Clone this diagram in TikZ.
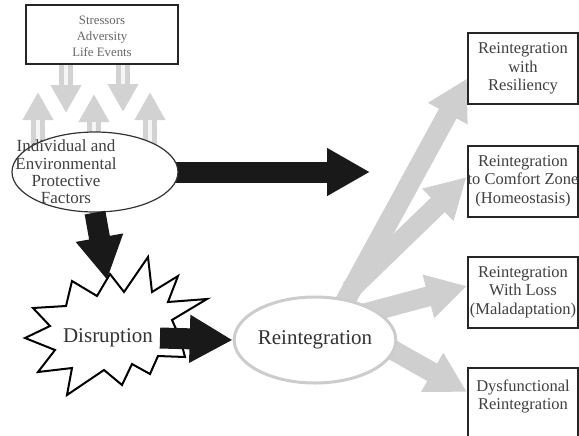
\documentclass[tikz,border=0pt]{standalone}
\usepackage{fontspec}
\setmainfont{Liberation Serif}
\usetikzlibrary{arrows.meta,calc,backgrounds,shapes.geometric}
\tikzset{
  stressbox/.style={draw=black!85, line width=1pt, fill=white, minimum width=76pt,
    minimum height=27.5pt, align=center, text=black!60, font=\fontsize{6.4}{8.2}\selectfont},
  protect/.style={ellipse, draw=black!80, line width=.6pt, fill=white, inner sep=0pt,
    minimum width=83pt, minimum height=40pt},
  outcome/.style={draw=black!85, line width=1pt, fill=white, inner xsep=0pt, minimum width=55pt,
    minimum height=35.5pt, align=center, text=black!75, font=\fontsize{8.25}{9.2}\selectfont},
  blackarrow/.style={black!90, line width=10.5pt, -{Triangle[length=21.5pt,width=22.5pt]}},
  fanarrow/.style={gray!38, line width=10pt, -{Triangle[length=20pt,width=21pt]}},
  pipe/.style={gray!35, line width=7pt, -{Triangle[length=14pt,width=14.5pt]}},
  pipestripe/.style={gray!8, line width=2pt, shorten >=14pt}
}
\begin{document}
\begin{tikzpicture}[x=0.5pt,y=-0.5pt]
\useasboundingbox (0,0) rectangle (579,435);
% left column
\node[stressbox] (stress) at (102,34.5) {\rule{0pt}{6pt}Stressors\\Adversity\\Life Events};
\node[protect] (ipf) at (95,172) {};
\node[align=center, text=black!75, font=\fontsize{8.5}{8.7}\selectfont] (ipflabel) at (66,172)
  {Individual and\\Environmental\\Protective\\Factors};
\coordinate (dn1) at (66,113);
\coordinate (dn2) at (123,112);
\coordinate (up1) at (38,92);
\coordinate (up2) at (94,94);
\coordinate (up3) at (150,92);
% the burst
\draw[line width=1pt, fill=white] (148,257)--(152,292)--(178,276)--(168,302)--(207,299)--(172,320)
  --(180,338)--(185,357)--(158,356)--(150,374)--(132,364)--(122,385)--(104,370)--(67,395)
  --(72,368)--(38,372)--(55,350)--(25,338)--(50,326)--(33,308)--(66,306)--(72,281)
  --(97,296)--(110,274)--(124,292)--cycle;
\node[text=black!80, font=\fontsize{10.5}{12}\selectfont] (dis) at (108,338) {Disruption};
\coordinate (hit) at (107,280);
\node[ellipse, draw=gray!40, line width=1.5pt, fill=white, inner sep=0pt, minimum width=68pt,
  minimum height=43pt, text=black!80, font=\fontsize{10.5}{12}\selectfont] (rei) at (315,340) {Reintegration};
% outcomes
\node[outcome] (r1) at (523,68.5) {Reintegration\\with\\Resiliency};
\node[outcome] (r2) at (523,181) {Reintegration\\to Comfort Zone\\(Homeostasis)};
\node[outcome] (r3) at (523,292) {Reintegration\\With Loss\\(Maladaptation)};
\node[outcome, minimum height=36pt] (r4) at (523,404) {Dysfunctional\\Reintegration\\~};
\coordinate (ahead) at (370,172);
% black arrows
\draw[blackarrow] (ipf.south) -- (hit);
\draw[blackarrow] (dis.east) -- (rei.west);
\begin{pgfonlayer}{background}
\fill[white] (0,0) rectangle (579,435);
\draw[blackarrow] (ipf.center) -- (ahead);
\draw[fanarrow] ($(rei.center)+(20,-20)$) -- ($(r1.west)+(0,10)$);
\draw[fanarrow] ($(rei.center)+(35,-50)$) -- ($(r2.west)+(0,-4)$);
\draw[fanarrow] ($(rei.center)+(25,-20)$) -- ($(r3.west)+(0,-6)$);
\draw[fanarrow] ($(rei.center)+(30,-17)$) -- ($(r4.north west)+(0,25)$);
% pipes between stressors and factors
\foreach \p in {dn1,dn2}{
  \draw[pipe] (\p |- stress.center) -- (\p);
  \draw[pipestripe] (\p |- stress.center) -- (\p);
}
\foreach \p in {up1,up2,up3}{
  \draw[pipe] (\p |- ipf.center) -- (\p);
  \draw[pipestripe] (\p |- ipf.center) -- (\p);
}
\end{pgfonlayer}
\end{tikzpicture}
\end{document}
